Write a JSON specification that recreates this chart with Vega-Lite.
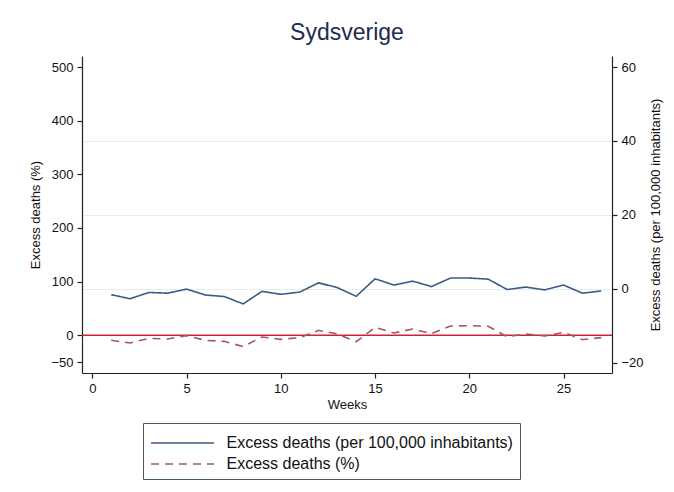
{
  "$schema": "https://vega.github.io/schema/vega-lite/v6.json",
  "width": 530,
  "height": 317,
  "autosize": {"type": "none"},
  "padding": {"left": 82, "top": 56, "right": 62, "bottom": 119},
  "background": "white",
  "title": {"text": "Sydsverige", "fontSize": 23, "font": "Liberation Sans", "fontWeight": "normal", "color": "#1c2b52", "offset": 11, "anchor": "middle"},
  "config": {
    "view": {"stroke": null},
    "font": "Liberation Sans",
    "axis": {"labelFont": "Liberation Sans", "titleFont": "Liberation Sans", "labelFontSize": 13, "titleFontSize": 13, "titleFontWeight": "normal", "labelColor": "#111", "titleColor": "#111", "domainColor": "#222", "tickColor": "#222", "domainWidth": 1.2, "tickWidth": 1.2, "tickSize": 5, "labelPadding": 4}
  },
  "datasets": {
    "rows": [
      {"week": 1, "series": "Excess deaths (per 100,000 inhabitants)", "value": -1.6},
      {"week": 2, "series": "Excess deaths (per 100,000 inhabitants)", "value": -2.7},
      {"week": 3, "series": "Excess deaths (per 100,000 inhabitants)", "value": -1.0},
      {"week": 4, "series": "Excess deaths (per 100,000 inhabitants)", "value": -1.2},
      {"week": 5, "series": "Excess deaths (per 100,000 inhabitants)", "value": -0.1},
      {"week": 6, "series": "Excess deaths (per 100,000 inhabitants)", "value": -1.7},
      {"week": 7, "series": "Excess deaths (per 100,000 inhabitants)", "value": -2.1},
      {"week": 8, "series": "Excess deaths (per 100,000 inhabitants)", "value": -4.1},
      {"week": 9, "series": "Excess deaths (per 100,000 inhabitants)", "value": -0.7},
      {"week": 10, "series": "Excess deaths (per 100,000 inhabitants)", "value": -1.5},
      {"week": 11, "series": "Excess deaths (per 100,000 inhabitants)", "value": -0.9},
      {"week": 12, "series": "Excess deaths (per 100,000 inhabitants)", "value": 1.6},
      {"week": 13, "series": "Excess deaths (per 100,000 inhabitants)", "value": 0.3},
      {"week": 14, "series": "Excess deaths (per 100,000 inhabitants)", "value": -2.05},
      {"week": 15, "series": "Excess deaths (per 100,000 inhabitants)", "value": 2.7},
      {"week": 16, "series": "Excess deaths (per 100,000 inhabitants)", "value": 1.0},
      {"week": 17, "series": "Excess deaths (per 100,000 inhabitants)", "value": 2.05},
      {"week": 18, "series": "Excess deaths (per 100,000 inhabitants)", "value": 0.6},
      {"week": 19, "series": "Excess deaths (per 100,000 inhabitants)", "value": 2.9},
      {"week": 20, "series": "Excess deaths (per 100,000 inhabitants)", "value": 2.9},
      {"week": 21, "series": "Excess deaths (per 100,000 inhabitants)", "value": 2.6},
      {"week": 22, "series": "Excess deaths (per 100,000 inhabitants)", "value": -0.2},
      {"week": 23, "series": "Excess deaths (per 100,000 inhabitants)", "value": 0.45},
      {"week": 24, "series": "Excess deaths (per 100,000 inhabitants)", "value": -0.3},
      {"week": 25, "series": "Excess deaths (per 100,000 inhabitants)", "value": 1.0},
      {"week": 26, "series": "Excess deaths (per 100,000 inhabitants)", "value": -1.2},
      {"week": 27, "series": "Excess deaths (per 100,000 inhabitants)", "value": -0.6},
      {"week": 1, "series": "Excess deaths (%)", "value": -9.3},
      {"week": 2, "series": "Excess deaths (%)", "value": -14.3},
      {"week": 3, "series": "Excess deaths (%)", "value": -5.6},
      {"week": 4, "series": "Excess deaths (%)", "value": -6.8},
      {"week": 5, "series": "Excess deaths (%)", "value": -0.6},
      {"week": 6, "series": "Excess deaths (%)", "value": -9.3},
      {"week": 7, "series": "Excess deaths (%)", "value": -11.2},
      {"week": 8, "series": "Excess deaths (%)", "value": -21.0},
      {"week": 9, "series": "Excess deaths (%)", "value": -3.1},
      {"week": 10, "series": "Excess deaths (%)", "value": -7.5},
      {"week": 11, "series": "Excess deaths (%)", "value": -4.3},
      {"week": 12, "series": "Excess deaths (%)", "value": 9.3},
      {"week": 13, "series": "Excess deaths (%)", "value": 2.5},
      {"week": 14, "series": "Excess deaths (%)", "value": -11.8},
      {"week": 15, "series": "Excess deaths (%)", "value": 14.9},
      {"week": 16, "series": "Excess deaths (%)", "value": 4.3},
      {"week": 17, "series": "Excess deaths (%)", "value": 11.8},
      {"week": 18, "series": "Excess deaths (%)", "value": 3.1},
      {"week": 19, "series": "Excess deaths (%)", "value": 17.4},
      {"week": 20, "series": "Excess deaths (%)", "value": 18.0},
      {"week": 21, "series": "Excess deaths (%)", "value": 16.8},
      {"week": 22, "series": "Excess deaths (%)", "value": -2.5},
      {"week": 23, "series": "Excess deaths (%)", "value": 2.5},
      {"week": 24, "series": "Excess deaths (%)", "value": -1.2},
      {"week": 25, "series": "Excess deaths (%)", "value": 5.6},
      {"week": 26, "series": "Excess deaths (%)", "value": -8.1},
      {"week": 27, "series": "Excess deaths (%)", "value": -4.3}
    ],
    "zeroline": [{"level": 0}]
  },
  "layer": [
    {
      "data": {"name": "zeroline"},
      "mark": {"type": "rule", "color": "#cc2238", "strokeWidth": 1.5},
      "encoding": {
        "y": {"field": "level", "type": "quantitative", "scale": {"domain": [-70.2, 520.5], "nice": false, "zero": false},
          "axis": {"orient": "left", "title": "Excess deaths (%)", "values": [-50, 0, 100, 200, 300, 400, 500], "grid": false, "titlePadding": 8}}
      }
    },
    {
      "data": {"name": "rows"},
      "transform": [{"filter": "datum.series == 'Excess deaths (per 100,000 inhabitants)'"}],
      "mark": {"type": "line", "strokeWidth": 1.6},
      "encoding": {
        "x": {"field": "week", "type": "quantitative", "scale": {"domain": [-0.55, 27.57], "nice": false, "zero": false},
          "axis": {"title": "Weeks", "values": [0, 5, 10, 15, 20, 25], "grid": false, "titlePadding": 3, "labelFlush": false}},
        "y": {"field": "value", "type": "quantitative", "scale": {"domain": [-22.8, 63.0], "nice": false, "zero": false},
          "axis": {"orient": "right", "title": "Excess deaths (per 100,000 inhabitants)", "titleAngle": 270, "values": [-20, 0, 20, 40, 60], "grid": true,
            "gridColor": {"condition": {"test": "datum.value == 60 || datum.value == -20", "value": "transparent"}, "value": "#e6eded"}, "gridWidth": 1.2, "titlePadding": 19}},
        "color": {"field": "series", "type": "nominal", "scale": {"domain": ["Excess deaths (per 100,000 inhabitants)", "Excess deaths (%)"], "range": ["#3b5b87", "#a85856"]},
          "legend": {"title": null, "orient": "none", "legendX": 61, "legendY": 367, "symbolType": "M-2.625,0H2.625", "symbolSize": 576, "symbolOffset": 19.5, "symbolStrokeWidth": 1.6, "labelFontSize": 16, "labelFont": "Liberation Sans", "labelColor": "#111", "labelOffset": 31, "rowPadding": 0, "padding": 7, "strokeColor": "#555", "fillColor": "white", "labelLimit": 400}},
        "strokeDash": {"field": "series", "type": "nominal", "scale": {"domain": ["Excess deaths (per 100,000 inhabitants)", "Excess deaths (%)"], "range": [[1, 0], [8, 6]]},
          "legend": {"title": null, "orient": "none", "legendX": 61, "legendY": 367, "symbolType": "M-2.625,0H2.625", "symbolSize": 576, "symbolOffset": 19.5, "symbolStrokeWidth": 1.6, "labelFontSize": 16, "labelFont": "Liberation Sans", "labelColor": "#111", "labelOffset": 31, "rowPadding": 0, "padding": 7, "strokeColor": "#555", "fillColor": "white", "labelLimit": 400}}
      }
    },
    {
      "data": {"name": "rows"},
      "transform": [{"filter": "datum.series == 'Excess deaths (%)'"}],
      "mark": {"type": "line", "strokeWidth": 1.6},
      "encoding": {
        "x": {"field": "week", "type": "quantitative"},
        "y": {"field": "value", "type": "quantitative", "scale": {"domain": [-70.2, 520.5], "nice": false, "zero": false}, "axis": null},
        "color": {"field": "series", "type": "nominal"},
        "strokeDash": {"field": "series", "type": "nominal"}
      }
    }
  ],
  "resolve": {"scale": {"y": "independent"}}
}
